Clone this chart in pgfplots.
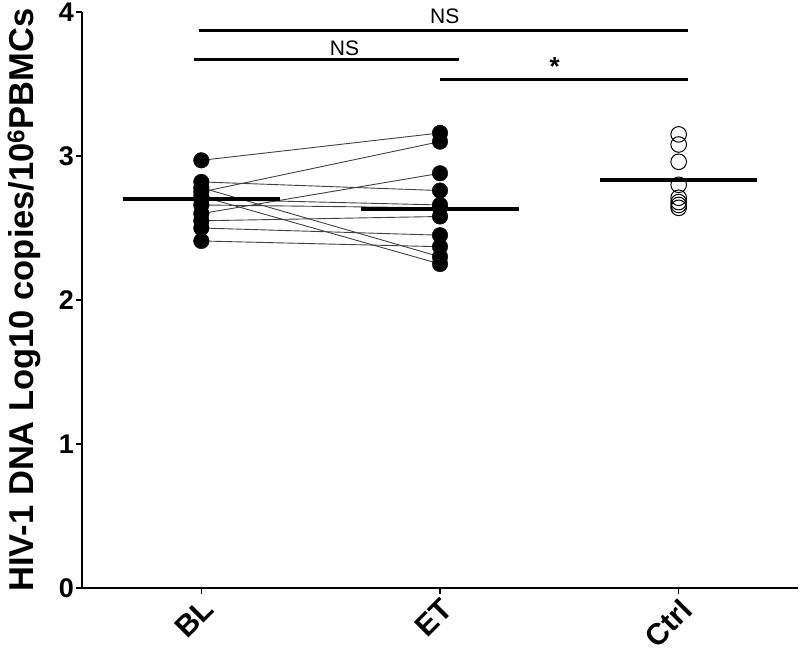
\documentclass[border=0pt]{standalone}
\usepackage{fontspec}
\setmainfont{Liberation Sans}
\usepackage{pgfplots}
\usepackage{pgfplotstable}
\pgfplotsset{compat=1.18}

% paired values, BL -> ET
\pgfplotstableread{
bl    et
2.97  3.16
2.82  2.76
2.78  2.30
2.75  3.10
2.72  2.25
2.70  2.66
2.66  2.64
2.60  2.88
2.55  2.58
2.50  2.45
2.41  2.37
}\paired

\pgfplotstableread{
ctrl
3.15
3.08
2.96
2.80
2.71
2.68
2.66
2.64
}\ctrl

\begin{document}
\begin{tikzpicture}
\begin{axis}[
  at={(0,0)}, anchor=south west,
  width=716pt, height=576pt, scale only axis,
  xmin=0.5, xmax=3.5, ymin=0, ymax=4,
  separate axis lines,
  axis x line*=bottom, axis y line*=left,
  axis line style={line width=1.6pt},
  xtick={1,2,3}, xticklabels={BL,ET,Ctrl},
  ytick={0,1,2,3,4},
  tick align=outside, major tick length=6pt,
  tick style={line width=1.6pt, black},
  /pgf/number format/assume math mode=true,
  yticklabel style={font=\fontsize{27}{30}\selectfont\bfseries, inner sep=2pt},
  xticklabel style={rotate=45, anchor=north east, inner sep=2pt,
                    font=\fontsize{30}{32}\selectfont\bfseries},
  ylabel={HIV-1 DNA Log10 copies/10\textsuperscript{6}PBMCs},
  ylabel style={font=\fontsize{34.5}{38}\selectfont\bfseries,
                at={(axis description cs:0,0.5)}, yshift=58pt, anchor=center},
  clip=false,
]

% connecting lines
\addplot[black!75, line width=0.9pt] coordinates {(1,2.97)(2,3.16)};
\addplot[black!75, line width=0.9pt] coordinates {(1,2.82)(2,2.76)};
\addplot[black!75, line width=0.9pt] coordinates {(1,2.78)(2,2.30)};
\addplot[black!75, line width=0.9pt] coordinates {(1,2.75)(2,3.10)};
\addplot[black!75, line width=0.9pt] coordinates {(1,2.72)(2,2.25)};
\addplot[black!75, line width=0.9pt] coordinates {(1,2.70)(2,2.66)};
\addplot[black!75, line width=0.9pt] coordinates {(1,2.66)(2,2.64)};
\addplot[black!75, line width=0.9pt] coordinates {(1,2.60)(2,2.88)};
\addplot[black!75, line width=0.9pt] coordinates {(1,2.55)(2,2.58)};
\addplot[black!75, line width=0.9pt] coordinates {(1,2.50)(2,2.45)};
\addplot[black!75, line width=0.9pt] coordinates {(1,2.41)(2,2.37)};

% points
\addplot[only marks, mark=*, mark size=7.8pt, black] table[x expr=1, y=bl] {\paired};
\addplot[only marks, mark=*, mark size=7.8pt, black] table[x expr=2, y=et] {\paired};
\addplot[only marks, mark=o, mark size=7.8pt, black, mark options={line width=1pt}] table[x expr=3, y=ctrl] {\ctrl};

% group means
\addplot[black, line width=4pt] coordinates {(0.67,2.70)(1.33,2.70)};
\addplot[black, line width=4pt] coordinates {(1.67,2.63)(2.33,2.63)};
\addplot[black, line width=4pt] coordinates {(2.67,2.83)(3.33,2.83)};

% significance bars
\addplot[black, line width=3pt] coordinates {(0.99,3.875)(3.04,3.875)};
\addplot[black, line width=3pt] coordinates {(0.97,3.667)(2.08,3.667)};
\addplot[black, line width=3pt] coordinates {(2.00,3.53)(3.04,3.53)};
\node[font=\fontsize{21}{24}\selectfont, anchor=base] at (axis cs:2.02,3.92) {NS};
\node[font=\fontsize{21}{24}\selectfont, anchor=base] at (axis cs:1.60,3.70) {NS};
\node[font=\fontsize{26}{28}\selectfont\bfseries] at (axis cs:2.48,3.62) {*};
\end{axis}
\pgfresetboundingbox
\useasboundingbox (-82pt,-66pt) rectangle (718pt,588pt);
\end{tikzpicture}
\end{document}
